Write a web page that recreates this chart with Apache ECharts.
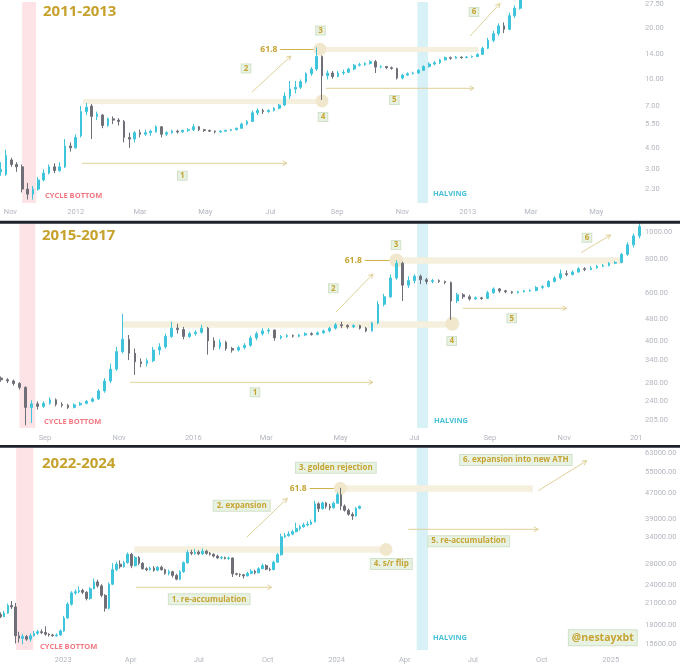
<!DOCTYPE html>
<html><head><meta charset="utf-8">
<script src="https://cdn.jsdelivr.net/npm/echarts@6/dist/echarts.min.js"></script>
<style>html,body{margin:0;padding:0;background:#fff}#c{width:680px;height:667px}</style>
</head><body><div id="c"></div>
<script>
const DAY = 86400000;

// ---------- 2011-2013 ----------
const topStart = '2011-10-23';
const topStepDays = 5;
// [open, close, low, high]
const topCandles = [
[2.9,3.0,2.75,3.3],[2.8,3.6,2.75,3.9],[3.4,3.2,3.1,3.5],[3.2,3.1,2.9,3.3],[3.1,2.3,2.2,3.2],
[2.3,2.15,2.0,2.5],[2.15,2.3,2.0,2.4],[2.3,2.6,2.25,2.7],[2.6,2.85,2.55,3.0],[2.85,3.1,2.8,3.2],
[3.1,2.95,2.85,3.25],[2.95,3.1,2.9,3.3],[3.1,4.1,3.05,4.5],[4.1,4.0,3.8,4.3],[4.0,4.6,3.95,4.8],
[4.7,6.5,4.6,7.0],[6.5,6.9,6.2,7.3],[7.0,6.1,4.5,7.2],[6.1,6.3,5.8,6.5],[6.2,5.4,5.2,6.3],
[5.4,5.9,5.3,6.0],[5.9,5.8,5.5,6.1],[5.8,5.7,5.4,5.95],[5.7,4.6,4.3,5.8],[4.6,4.5,4.0,4.9],
[4.5,4.9,4.3,5.0],[4.9,4.8,4.6,5.1],[4.8,4.9,4.7,5.1],[4.9,5.0,4.7,5.1],[4.95,5.3,4.9,5.4],
[5.3,4.8,4.6,5.35],[4.8,4.9,4.7,5.0],[4.9,5.0,4.85,5.1],[5.0,4.95,4.85,5.1],[4.95,5.05,4.9,5.1],
[5.05,5.1,4.95,5.2],[5.1,5.3,5.0,5.5],[5.3,5.1,5.0,5.35],[5.1,5.05,4.95,5.15],[5.05,5.0,4.95,5.1],
[5.0,4.95,4.85,5.05],[4.95,5.0,4.9,5.05],[5.0,5.05,4.95,5.1],[5.05,5.1,5.0,5.15],[5.1,5.2,5.05,5.25],
[5.2,5.5,5.15,5.6],[5.5,5.7,5.4,5.8],[5.7,6.4,5.65,6.6],[6.4,6.6,6.2,6.8],[6.6,6.5,6.3,6.75],
[6.5,6.6,6.4,6.7],[6.6,6.8,6.5,6.9],[6.8,7.1,6.7,7.2],[7.1,8.0,7.0,8.4],[8.0,8.8,7.7,9.8],
[8.8,9.0,8.3,9.8],[9.0,9.7,8.8,10.0],[9.7,10.8,9.5,11.0],[10.8,11.5,10.5,11.8],[11.5,13.6,11.2,15.4],
[13.6,10.5,7.6,13.8],[10.5,10.9,10.0,11.3],[10.9,10.4,10.1,11.2],[10.4,10.9,10.3,11.2],[10.9,11.0,10.6,11.4],
[11.0,11.5,10.9,11.7],[11.5,12.1,11.3,12.3],[12.1,12.2,11.9,12.5],[12.2,12.4,12.0,12.6],[12.4,12.7,12.2,12.9],
[12.7,11.8,10.9,13.0],[11.8,11.9,11.6,12.1],[11.9,11.7,11.5,12.0],[11.7,11.6,11.4,11.9],[11.6,10.2,10.0,11.7],
[10.2,10.6,10.0,10.8],[10.6,10.8,10.5,11.0],[10.8,10.9,10.7,11.1],[10.9,11.3,10.8,11.5],[11.3,11.9,11.2,12.1],
[11.9,12.3,11.7,12.6],[12.3,12.5,12.1,12.8],[12.5,13.0,12.3,13.2],[13.0,13.4,12.9,13.6],[13.4,13.3,13.0,13.6],
[13.3,13.5,13.2,13.7],[13.5,13.4,13.2,13.6],[13.4,13.5,13.3,13.7],[13.5,13.6,13.4,13.8],[13.6,14.0,13.5,14.2],
[14.0,15.2,13.9,15.5],[15.2,16.9,15.0,17.5],[16.9,18.5,16.5,19.2],[18.5,20.5,18.0,21.2],[20.5,19.6,18.6,21.5],
[19.6,23.5,19.3,24.5],[23.5,26.0,22.8,27.0],[26.0,29.0,25.5,31.0],[29.0,32.0,28.5,34.0]
];
const topYTicks = [27.5, 20, 14, 10, 7, 5.5, 4, 3, 2.3];
const topXTicks = ['2011-11-01','2012-01-01','2012-03-01','2012-05-01','2012-07-01','2012-09-01','2012-11-01','2013-01-01','2013-03-01','2013-05-01'];
const topXLabels = ['Nov','2012','Mar','May','Jul','Sep','Nov','2013','Mar','May'];
const topLevels = [{from:'2012-01-08', to:'2012-08-20', price:7.5},{from:'2012-08-16', to:'2013-01-11', price:15.0}];
const topCircles = [{date:'2012-08-16', price:15.0},{date:'2012-08-18', price:7.5}];
const topFib = {from:'2012-07-10', to:'2012-08-14', price:15.0};
const topCycleBottom = ['2011-11-12','2011-11-25'];
const topHalving = ['2012-11-15','2012-11-25'];

// ---------- 2015-2017 ----------
const midStart = '2015-07-27';
const midStepDays = 5;
const midCandles = [
[292,288,283,296],[288,285,280,292],[285,279,274,288],[279,270,265,282],[270,228,196,272],
[228,235,200,242],[235,230,224,240],[230,236,227,240],[236,243,233,248],[243,234,230,246],
[234,232,228,238],[232,228,225,235],[228,233,226,236],[233,236,231,239],[236,240,234,243],
[240,245,238,248],[245,262,243,266],[262,285,258,292],[285,315,280,330],[315,365,310,380],
[365,405,360,502],[405,360,340,420],[360,335,300,375],[335,330,320,345],[330,338,322,345],
[338,370,334,380],[370,380,355,392],[380,415,375,425],[415,445,410,470],[445,440,425,462],
[440,415,405,450],[415,425,410,432],[425,430,418,438],[430,445,425,458],[445,400,356,450],
[400,380,370,412],[380,395,372,405],[395,375,368,400],[375,370,362,380],[370,378,365,384],
[378,385,372,392],[385,410,380,418],[410,425,402,432],[425,435,418,445],[435,438,425,445],
[438,410,400,440],[410,415,405,420],[415,418,410,423],[418,416,411,422],[416,420,412,425],
[420,425,416,430],[425,422,418,430],[422,428,419,433],[428,435,425,440],[435,445,430,450],
[445,458,440,465],[458,455,445,470],[455,450,443,460],[450,455,445,460],[455,445,440,458],
[445,435,430,450],[435,465,432,470],[465,545,460,560],[545,580,535,595],[580,680,575,700],
[680,770,670,790],[770,640,560,780],[640,665,625,690],[665,690,650,700],[690,670,645,700],
[670,660,645,680],[660,665,650,675],[665,660,652,672],[660,655,645,665],[655,560,478,660],
[560,590,550,600],[590,580,570,598],[580,570,562,590],[570,575,565,582],[575,572,565,580],
[572,600,570,610],[600,620,595,628],[620,610,600,625],[610,605,598,615],[605,600,595,610],
[600,605,596,610],[605,610,602,615],[610,612,605,618],[612,628,608,635],[628,632,620,640],
[632,660,628,668],[660,680,655,690],[680,705,670,730],[705,700,690,725],[700,715,695,725],
[715,735,710,745],[735,730,720,745],[730,740,725,750],[740,750,735,760],[750,755,745,765],
[755,770,750,778],[770,775,765,785],[775,830,770,840],[830,900,820,920],[900,970,880,990],
[970,1050,950,1100]
];
const midYTicks = [1000, 800, 600, 480, 400, 340, 280, 240, 205];
const midXTicks = ['2015-09-01','2015-11-01','2016-01-01','2016-03-01','2016-05-01','2016-07-01','2016-09-01','2016-11-01','2017-01-01'];
const midXLabels = ['Sep','Nov','2016','Mar','May','Jul','Sep','Nov','2017'];
const midLevels = [{from:'2015-11-04', to:'2016-08-01', price:459},{from:'2016-06-15', to:'2016-12-19', price:788}];
const midCircles = [{date:'2016-06-16', price:788},{date:'2016-08-01', price:462}];
const midFib = {from:'2016-05-21', to:'2016-06-13', price:788};
const midCycleBottom = ['2015-08-11','2015-08-24'];
const midHalving = ['2016-07-03','2016-07-12'];

// ---------- 2022-2024 ----------
const botStart = '2022-10-09';
const botStepDays = 5;
const botCandles = [
[19400,19100,18900,19700],[19100,19600,19000,19900],[19600,20700,19500,21000],[20700,20500,20200,21400],[20500,16600,15700,21100],
[16600,16300,15800,17100],[16300,16500,15600,16800],[16500,16200,16000,16700],[16200,16600,15900,16900],[16600,16900,16500,17200],
[16900,17100,16700,17300],[17100,17000,16800,17400],[17000,16800,16600,17800],[16800,16700,16500,16900],[16700,16600,16500,16850],
[16600,16700,16500,16900],[16700,17200,16600,17400],[17200,18900,17100,19200],[18900,20900,18800,21200],[20900,22700,20700,23000],
[22700,22900,22400,23300],[22900,23100,22600,23800],[23100,22800,22500,23400],[22800,21800,21500,23000],[21800,23400,21600,23700],
[23400,24600,23300,25200],[24600,23900,23600,25000],[23900,22300,22000,24200],[22300,20300,19800,22500],[20300,24200,20100,24500],
[24200,26900,24000,28200],[26900,28000,26600,28500],[28000,27500,27100,28800],[27500,28300,27300,28700],[28300,30100,28100,30500],
[30100,27700,27200,30400],[27700,29400,27500,29700],[29400,28200,27800,29700],[28200,27100,26900,28400],[27100,26900,26600,27400],
[26900,27200,26700,27500],[27200,26800,26500,27600],[26800,27400,26600,27600],[27400,26900,26700,27700],[26900,26200,25900,27100],
[26200,26500,25800,26900],[26500,25800,25400,26700],[25800,25100,24900,26100],[25100,26500,24900,26800],[26500,28300,26300,28600],
[28300,30500,28100,31000],[30500,30300,29900,31100],[30300,30600,30000,31300],[30600,30200,29900,31000],[30200,30800,30000,31400],
[30800,30300,30000,31100],[30300,30100,29800,30600],[30100,29700,29400,30300],[29700,29300,29100,30000],[29300,29400,29000,29700],
[29400,29200,29000,29600],[29200,29300,28900,29600],[29300,26100,25500,29400],[26100,26000,25800,26300],[26000,25900,25500,26200],
[25900,25700,25200,26100],[25700,26200,25600,26500],[26200,26600,26000,27000],[26600,26300,26000,26900],[26300,27100,26200,27400],
[27100,27700,27000,28100],[27700,27000,26800,28000],[27000,26900,26600,27300],[26900,28400,26800,28700],[28400,30000,28300,30400],
[30000,34200,29800,35000],[34200,34500,33900,35200],[34500,34900,34200,35600],[34900,35500,34600,36000],[35500,36300,35300,37900],
[36300,36800,35800,37300],[36800,37300,36500,37900],[37300,37500,36900,38300],[37500,38100,37200,38800],[38100,43500,38000,44500],
[43500,42000,41000,44000],[42000,43800,41700,44200],[43800,42700,42000,44100],[42700,42300,41500,43500],[42300,43700,42000,44200],
[43700,46500,43500,47300],[46500,42800,41500,48900],[42800,41500,41100,43300],[41500,40300,39900,42000],[40300,39800,38700,40900],
[39800,42100,39600,42500],[42100,42700,41800,43000]
];
const botYTicks = [63000, 55000, 47000, 39000, 34000, 28000, 24000, 21000, 18000, 15600];
const botXTicks = ['2023-01-01','2023-04-01','2023-07-01','2023-10-01','2024-01-01','2024-04-01','2024-07-01','2024-10-01','2025-01-01'];
const botXLabels = ['2023','Apr','Jul','Oct','2024','Apr','Jul','Oct','2025'];
const botLevels = [{from:'2023-04-06', to:'2024-03-07', price:31170},{from:'2024-01-05', to:'2024-09-19', price:48730}];
const botCircles = [{date:'2024-01-06', price:48730},{date:'2024-03-07', price:31170}];
const botFib = {from:'2023-11-26', to:'2023-12-29', price:48730};
const botCycleBottom = ['2022-10-30','2022-11-22'];
const botHalving = ['2024-04-17','2024-05-02'];

// ---------- styling ----------
const UP = '#3ec5dc', DOWN = '#6f6f78';
const GOLD = '#c6a434', BAND = '#f5efdd', CIRCLE = '#f0e7cc';
const PINK = '#fde3e6', BLUE = '#d8f1f6';
const BOXBG = '#e8f2e3', BOXBORDER = '#d2e2c9', ARROW = '#e0d199';
const AXIS_TXT = '#b4b7c0';

function ts(s){ return Date.parse(s + 'T00:00:00Z'); }
function buildCandles(start, step, candles){
  const t0 = ts(start);
  return candles.map((c,i) => [t0 + i*step*DAY, Math.log10(c[0]), Math.log10(c[1]), Math.log10(c[2]), Math.log10(c[3])]);
}

const panels = [
  {candles: buildCandles(topStart, topStepDays, topCandles),
   xMin: ts('2012-01-01') - 70.7*DAY, xMax: ts('2012-01-01') + 527.8*DAY,
   yMin: 1.909, yMax: 28.24, yTicks: topYTicks, xTicks: topXTicks, xLabels: topXLabels,
   top: 0, height: 203, xMargin: 5, bandW: 5, circ: 13,
   levels: topLevels, circles: topCircles, fib: topFib, pink: topCycleBottom, blue: topHalving},
  {candles: buildCandles(midStart, midStepDays, midCandles),
   xMin: ts('2016-01-01') - 159.0*DAY, xMax: ts('2016-01-01') + 368.2*DAY,
   yMin: 191.6, yMax: 1072.6, yTicks: midYTicks, xTicks: midXTicks, xLabels: midXLabels,
   top: 224, height: 204, xMargin: 6, bandW: 6.5, circ: 14,
   levels: midLevels, circles: midCircles, fib: midFib, pink: midCycleBottom, blue: midHalving},
  {candles: buildCandles(botStart, botStepDays, botCandles),
   xMin: ts('2023-01-01') - 84.5*DAY, xMax: ts('2023-01-01') + 771.5*DAY,
   yMin: 14965, yMax: 65390, yTicks: botYTicks, xTicks: botXTicks, xLabels: botXLabels,
   top: 448, height: 202, xMargin: 6, bandW: 6.5, circ: 13,
   levels: botLevels, circles: botCircles, fib: botFib, pink: botCycleBottom, blue: botHalving}
];

const grids = [], xAxes = [], yAxes = [], series = [];
panels.forEach((p, k) => {
  grids.push({left: 0, top: p.top, width: 641, height: p.height, containLabel: false});
  const xt = p.xTicks.map(ts);
  xAxes.push({type: 'value', gridIndex: k, min: p.xMin, max: p.xMax, scale: true,
    axisLine: {show: false}, axisTick: {show: false}, splitLine: {show: false},
    axisLabel: {customValues: xt, margin: p.xMargin, color: AXIS_TXT, fontSize: 7.5, fontFamily: 'Roboto',
      formatter: (v) => { const i = xt.findIndex(t => Math.abs(t - v) < DAY); return i >= 0 ? p.xLabels[i] : ''; }}
  });
  yAxes.push({type: 'value', gridIndex: k, position: 'right', min: Math.log10(p.yMin), max: Math.log10(p.yMax), scale: true,
    axisLine: {show: false}, axisTick: {show: false}, splitLine: {show: false},
    axisLabel: {customValues: p.yTicks.map(Math.log10), margin: 4, color: AXIS_TXT, fontSize: 7.5, fontFamily: 'Roboto',
      formatter: (v) => Math.pow(10, v).toFixed(2)}
  });
  const lines = p.levels.map(l => [
    {coord: [ts(l.from), Math.log10(l.price)], lineStyle: {color: BAND, width: p.bandW, type: 'solid', cap: 'butt'}, label: {show: false}},
    {coord: [ts(l.to), Math.log10(l.price)]}
  ]);
  lines.push([
    {coord: [ts(p.fib.from), Math.log10(p.fib.price)], lineStyle: {color: '#d1b24a', width: 1, type: 'solid'},
     label: {show: true, position: 'start', formatter: '61.8', color: GOLD, fontWeight: 'bold', fontSize: 8.5, fontFamily: 'Open Sans', distance: 3}},
    {coord: [ts(p.fib.to), Math.log10(p.fib.price)]}
  ]);
  series.push({type: 'line', xAxisIndex: k, yAxisIndex: k, data: [], z: 1, silent: true,
    markArea: {z: 0, silent: true, label: {show: false}, data: [
      [{xAxis: ts(p.pink[0]), itemStyle: {color: PINK}}, {xAxis: ts(p.pink[1])}],
      [{xAxis: ts(p.blue[0]), itemStyle: {color: BLUE}}, {xAxis: ts(p.blue[1])}]
    ]},
    markLine: {z: 1, silent: true, symbol: ['none', 'none'], data: lines},
    markPoint: {z: 1, silent: true, symbol: 'circle', symbolSize: p.circ, itemStyle: {color: CIRCLE}, label: {show: false},
      data: p.circles.map(c => ({coord: [ts(c.date), Math.log10(c.price)]}))}
  });
  series.push({type: 'candlestick', xAxisIndex: k, yAxisIndex: k, data: p.candles, z: 3, silent: true,
    encode: {x: 0, y: [1, 2, 3, 4]}, barWidth: 2.2,
    itemStyle: {color: UP, color0: DOWN, borderColor: UP, borderColor0: DOWN, borderWidth: 1}
  });
});

// ---------- annotations (pixel overlay) ----------
function tag(x, y, text, size, pad){
  return {type: 'text', x, y, z: 60, silent: true, style: {text, fill: GOLD, font: 'bold ' + (size || 8) + 'px "Open Sans"',
    align: 'center', verticalAlign: 'middle', backgroundColor: BOXBG, borderColor: BOXBORDER, borderWidth: 1, padding: pad || [0, 2]}};
}
function label(x, y, text, color, size){
  return {type: 'text', x, y, z: 60, silent: true, style: {text, fill: color, font: 'bold ' + size + 'px "Open Sans"', align: 'left', verticalAlign: 'middle'}};
}
function arrow(x1, y1, x2, y2){
  const a = Math.atan2(y2 - y1, x2 - x1), L = 5, s = 0.5;
  return [
    {type: 'line', z: 40, silent: true, shape: {x1, y1, x2, y2}, style: {stroke: ARROW, lineWidth: 1}},
    {type: 'polyline', z: 40, silent: true, shape: {points: [[x2 - L*Math.cos(a - s), y2 - L*Math.sin(a - s)], [x2, y2], [x2 - L*Math.cos(a + s), y2 - L*Math.sin(a + s)]]},
     style: {stroke: ARROW, lineWidth: 1, fill: 'none'}}
  ];
}
const TITLE = '#c6a22c', CB = '#f37882', HV = '#48c0d7';
const graphic = [
  label(43, 11.5, '2011-2013', TITLE, 15),
  label(45, 196, 'CYCLE BOTTOM', CB, 7.5),
  label(433, 194, 'HALVING', HV, 7.5),
  tag(320.5, 30.5, '3'), tag(246, 68.5, '2'), tag(323, 117, '4'), tag(182.3, 175.7, '1'), tag(394.3, 100, '5'), tag(474, 12, '6'),
  ...arrow(252, 92, 291, 56), ...arrow(82, 163.3, 287, 163.3), ...arrow(326, 88.3, 474, 88.3), ...arrow(470, 36, 500, 3.5),
  label(42, 235.7, '2015-2017', TITLE, 15),
  label(44, 421.7, 'CYCLE BOTTOM', CB, 7.5),
  label(434, 421.3, 'HALVING', HV, 7.5),
  tag(396, 245, '3'), tag(333.3, 288.3, '2'), tag(451.7, 341, '4'), tag(255, 392.3, '1'), tag(511.7, 318.3, '5'), tag(587, 237.7, '6'),
  ...arrow(336, 312, 373, 274), ...arrow(130, 382.3, 373, 382.3), ...arrow(462.7, 308.3, 566.7, 308.3), ...arrow(581, 252.7, 610.7, 235),
  label(42, 463.3, '2022-2024', TITLE, 15),
  label(40, 646.7, 'CYCLE BOTTOM', CB, 7.5),
  label(433, 638.3, 'HALVING', HV, 7.5),
  tag(335.8, 467.8, '3. golden rejection', 8, [1, 3]),
  tag(515.8, 460, '6. expansion into new ATH', 8, [1, 3]),
  tag(241.7, 505.8, '2. expansion', 8, [1, 3]),
  tag(391.3, 564, '4. s/r flip', 8, [1, 3]),
  tag(209.2, 599.3, '1. re-accumulation', 8, [1, 3]),
  tag(468.7, 541.2, '5. re-accumulation', 8, [1, 3]),
  tag(602.8, 637.7, '@nestayxbt', 10.5, [2, 3]),
  ...arrow(538.3, 490.7, 586.7, 460.7), ...arrow(246.7, 537.3, 287.3, 498.3), ...arrow(136, 587.3, 271.7, 587.3), ...arrow(408.3, 529.3, 538.3, 529.3),
  {type: 'rect', z: 100, silent: true, shape: {x: 641, y: 431, width: 39, height: 13}, style: {fill: '#ffffff'}},
  {type: 'rect', z: 110, silent: true, shape: {x: 0, y: 220.7, width: 680, height: 3}, style: {fill: '#1e222d'}},
  {type: 'rect', z: 110, silent: true, shape: {x: 0, y: 445, width: 680, height: 2.7}, style: {fill: '#1e222d'}}
];

const chart = echarts.init(document.getElementById('c'), null, {renderer: 'canvas'});
chart.setOption({
  animation: false,
  backgroundColor: '#ffffff',
  grid: grids, xAxis: xAxes, yAxis: yAxes, series, graphic
});
</script></body></html>
